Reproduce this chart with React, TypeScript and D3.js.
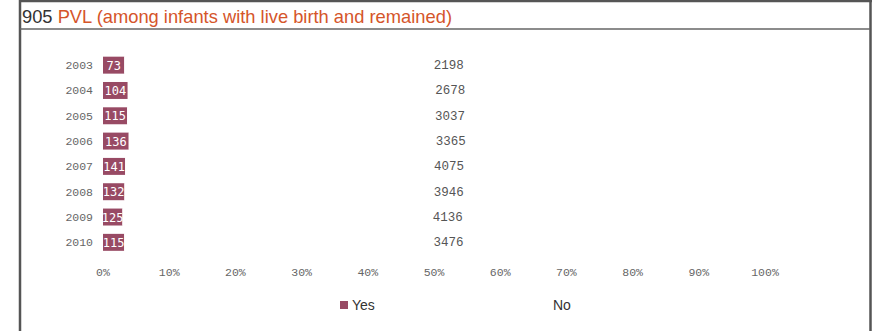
import React, { useEffect, useRef } from "react";
import * as d3 from "d3";

const years = ["2003", "2004", "2005", "2006", "2007", "2008", "2009", "2010"];
const yesValues = [73, 104, 115, 136, 141, 132, 125, 115];
const noValues = [2198, 2678, 3037, 3365, 4075, 3946, 4136, 3476];
const xTicks = [0, 0.1, 0.2, 0.3, 0.4, 0.5, 0.6, 0.7, 0.8, 0.9, 1.0];
const seriesNames = ["Yes", "No"];
const seriesColors = ["#984a64", "#ffffff"];

const W = 874;
const H = 331;

export default function App() {
  const ref = useRef<SVGSVGElement>(null);

  useEffect(() => {
    const svg = d3.select(ref.current);
    svg.selectAll("*").remove();

    // frame
    svg.append("rect").attr("x", 0).attr("y", 0).attr("width", W).attr("height", H).attr("fill", "#fff");
    svg.append("line").attr("x1", 19).attr("x2", 872).attr("y1", 1).attr("y2", 1).attr("stroke", "#555").attr("stroke-width", 2.5);
    svg.append("line").attr("x1", 20).attr("x2", 20).attr("y1", 0).attr("y2", H).attr("stroke", "#555").attr("stroke-width", 2.5);
    svg.append("line").attr("x1", 870.5).attr("x2", 870.5).attr("y1", 0).attr("y2", H).attr("stroke", "#555").attr("stroke-width", 2.5);
    svg.append("line").attr("x1", 20).attr("x2", 870).attr("y1", 29).attr("y2", 29).attr("stroke", "#666").attr("stroke-width", 1.5);

    // title
    const title = svg.append("text").attr("x", 22).attr("y", 22.5)
      .attr("font-family", "Liberation Sans, Arial, sans-serif").attr("font-size", 19)
      .attr("textLength", 430).attr("lengthAdjust", "spacingAndGlyphs");
    title.append("tspan").attr("fill", "#333").text("905 ");
    title.append("tspan").attr("fill", "#d5552a").text("PVL (among infants with live birth and remained)");

    const x = d3.scaleLinear().domain([0, 1]).range([103, 765]);
    const y = d3.scaleBand().domain(years).range([52.5, 255]).paddingInner(0.33).paddingOuter(0.165);

    const mono = "Liberation Mono, Courier New, monospace";

    // year labels
    svg.append("g").selectAll("text").data(years).join("text")
      .attr("x", 93).attr("y", (d) => (y(d) as number) + y.bandwidth() / 2 + 4)
      .attr("text-anchor", "end").attr("font-family", mono).attr("font-size", 11.5)
      .attr("fill", "#666").text((d) => d);

    const rows = years.map((yr, i) => {
      const total = yesValues[i] + noValues[i];
      return { yr, yes: yesValues[i], no: noValues[i], fy: yesValues[i] / total, fn: noValues[i] / total };
    });

    // Yes bars
    svg.append("g").selectAll("rect").data(rows).join("rect")
      .attr("x", x(0)).attr("y", (d) => y(d.yr) as number)
      .attr("width", (d) => x(d.fy) - x(0)).attr("height", y.bandwidth())
      .attr("fill", seriesColors[0]);
    // No bars
    svg.append("g").selectAll("rect").data(rows).join("rect")
      .attr("x", (d) => x(d.fy)).attr("y", (d) => y(d.yr) as number)
      .attr("width", (d) => x(1) - x(d.fy)).attr("height", y.bandwidth())
      .attr("fill", seriesColors[1]);

    // Yes labels
    svg.append("g").selectAll("text").data(rows).join("text")
      .attr("x", (d) => (x(0) + x(d.fy)) / 2).attr("y", (d) => (y(d.yr) as number) + y.bandwidth() / 2 + 4.5)
      .attr("text-anchor", "middle").attr("font-family", "DejaVu Sans Mono, monospace").attr("font-size", 12)
      .attr("fill", "#fff").text((d) => d.yes);
    // No labels
    svg.append("g").selectAll("text").data(rows).join("text")
      .attr("x", (d) => (x(d.fy) + x(1)) / 2 + 4).attr("y", (d) => (y(d.yr) as number) + y.bandwidth() / 2 + 4)
      .attr("text-anchor", "middle").attr("font-family", mono).attr("font-size", 12.5)
      .attr("fill", "#555").text((d) => d.no);

    // x axis ticks
    svg.append("g").selectAll("text").data(xTicks).join("text")
      .attr("x", (d) => x(d)).attr("y", 276)
      .attr("text-anchor", "middle").attr("font-family", mono).attr("font-size", 11.5)
      .attr("fill", "#666").text((d) => d3.format(".0%")(d));

    // legend
    const legX = [340, 541];
    const leg = svg.append("g").selectAll("g").data(seriesNames).join("g")
      .attr("transform", (d, i) => `translate(${legX[i]},301)`);
    leg.append("rect").attr("width", 8).attr("height", 8)
      .attr("fill", (d, i) => seriesColors[i]);
    leg.append("text").attr("x", 12).attr("y", 9).attr("font-family", "Liberation Sans, Arial, sans-serif")
      .attr("font-size", 14).attr("fill", "#333").text((d) => d);
  }, []);

  return (
    <svg ref={ref} width={W} height={H} style={{ position: "absolute", left: 0, top: 0 }} />
  );
}
